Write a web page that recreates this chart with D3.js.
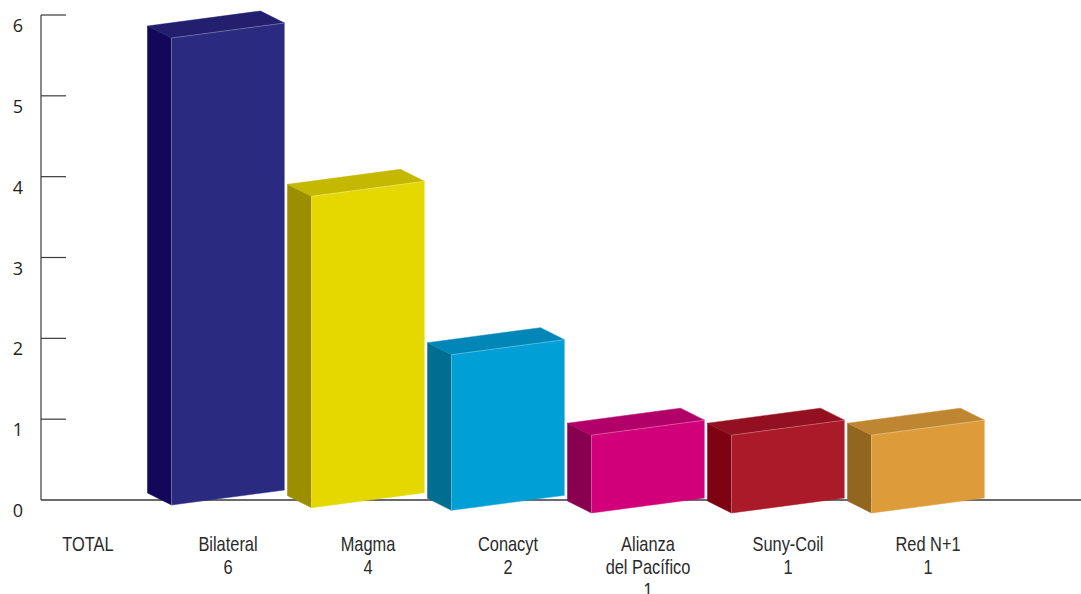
<!DOCTYPE html>
<html>
<head>
<meta charset="utf-8">
<script src="https://cdn.jsdelivr.net/npm/d3@7"></script>
<style>
  html, body { margin: 0; padding: 0; background: #ffffff; }
  svg { display: block; }
</style>
</head>
<body>
<svg id="chart" width="1081" height="594"></svg>
<script>
// ---- data ----
const categories = ["TOTAL", "Bilateral", "Magma", "Conacyt", "Alianza del Pacífico", "Suny-Coil", "Red N+1"];
const values = [null, 6, 4, 2, 1, 1, 1];
const nameLines = [["TOTAL"], ["Bilateral"], ["Magma"], ["Conacyt"], ["Alianza", "del Pacífico"], ["Suny-Coil"], ["Red N+1"]];
const yTicks = [0, 1, 2, 3, 4, 5, 6];
const frontColors = ["#ffffff", "#2a2a80", "#e5d700", "#009fd6", "#d1007a", "#ab1a28", "#dd9b39"];
const sideColors  = ["#ffffff", "#13075a", "#9b8f00", "#006d91", "#8a0050", "#7d0313", "#93661f"];
const topColors   = ["#ffffff", "#221f6f", "#c4b800", "#0087b8", "#b10068", "#92101f", "#be8630"];

// ---- layout ----
const svg = d3.select("#chart");
const W = 1081, H = 594;
const axisX = 41, baseLineY = 500;

const y = d3.scaleLinear().domain([0, 6]).range([500, 15]);
const x = d3.scaleBand().domain(categories).range([18, 998]).paddingInner(0).paddingOuter(0);

// 3D projection helpers
const barHeight = d3.scaleLinear().domain([0, 6]).range([0, 467]);
const barBase = d3.scaleLinear().domain([1, 4]).range([505, 513]).clamp(true);
const frontW = 113, skew = 15, depthX = -24, depthY = -12;

// axis line and ticks
svg.append("line")
  .attr("x1", axisX).attr("x2", axisX)
  .attr("y1", y(6)).attr("y2", baseLineY)
  .attr("stroke", "#3a3a3a").attr("stroke-width", 1.2);

svg.append("g").selectAll("line").data(yTicks.filter(d => d > 0)).join("line")
  .attr("x1", axisX).attr("x2", axisX + 25)
  .attr("y1", d => y(d)).attr("y2", d => y(d))
  .attr("stroke", "#3a3a3a").attr("stroke-width", 1.2);

svg.append("g").selectAll("text").data(yTicks).join("text")
  .attr("x", 18).attr("y", d => y(d) + 10)
  .attr("text-anchor", "middle").attr("dominant-baseline", "central")
  .attr("font-family", "'Open Sans', 'Liberation Sans', sans-serif")
  .attr("font-size", 18).attr("fill", "#231f20")
  .text(d => d);

// baseline
svg.append("line")
  .attr("x1", axisX).attr("x2", W)
  .attr("y1", baseLineY).attr("y2", baseLineY)
  .attr("stroke", "#3a3a3a").attr("stroke-width", 1.6);

// bars
const bars = categories.map((c, i) => ({ c, i, v: values[i] })).filter(d => d.v != null);
const pts = a => a.map(p => p.join(",")).join(" ");

const g = svg.append("g");
bars.forEach(d => {
  const cx = x(d.c) + x.bandwidth() / 2;
  const fl = cx - frontW / 2, fr = cx + frontW / 2;
  const bL = barBase(d.i), bR = bL - skew;
  const h = barHeight(d.v);
  const front = [[fl, bL - h], [fr, bR - h], [fr, bR], [fl, bL]];
  const side = [[fl + depthX, bL - h + depthY], [fl, bL - h], [fl, bL], [fl + depthX, bL + depthY]];
  const top = [[fl + depthX, bL - h + depthY], [fr + depthX, bR - h + depthY], [fr, bR - h], [fl, bL - h]];
  g.append("polygon").attr("points", pts(side)).attr("fill", sideColors[d.i])
    .attr("stroke", sideColors[d.i]).attr("stroke-width", 0.5);
  g.append("polygon").attr("points", pts(top)).attr("fill", topColors[d.i])
    .attr("stroke", topColors[d.i]).attr("stroke-width", 0.5);
  g.append("polygon").attr("points", pts(front)).attr("fill", frontColors[d.i])
    .attr("stroke", frontColors[d.i]).attr("stroke-width", 0.5);
  // light edge highlights
  g.append("polyline").attr("points", pts([[fl, bL], [fl, bL - h], [fr, bR - h], [fr, bR]]))
    .attr("fill", "none").attr("stroke", "rgba(255,255,255,0.35)").attr("stroke-width", 0.8);
});

// category labels (condensed look)
const lab = svg.append("g")
  .attr("font-family", "'Liberation Sans', Arial, sans-serif")
  .attr("font-size", 20.5).attr("fill", "#2b2a2a").attr("text-anchor", "middle");
categories.forEach((c, i) => {
  const cx = x(c) + x.bandwidth() / 2;
  const lines = nameLines[i].slice();
  if (values[i] != null) lines.push(String(values[i]));
  const t = lab.append("text")
    .attr("transform", `translate(${cx},0) scale(0.8,1)`)
    .attr("x", 0).attr("y", 551);
  lines.forEach((ln, k) => {
    t.append("tspan").attr("x", 0).attr("dy", k === 0 ? 0 : 23).text(ln);
  });
});
</script>
</body>
</html>
